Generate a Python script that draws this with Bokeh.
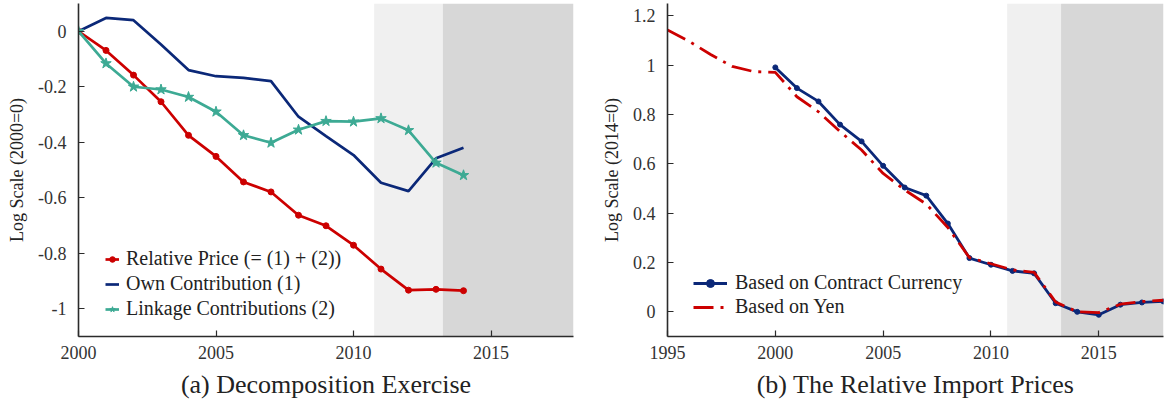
from bokeh.plotting import figure
from bokeh.layouts import row
from bokeh.models import BoxAnnotation, Legend, LegendItem, Range1d, FixedTicker
from bokeh.embed import file_html
from bokeh.resources import INLINE

# Panel (a): decomposition of the relative price (log, 2000 = 0)
years_a = list(range(2000, 2015))
relative_price = [0, -0.069, -0.158, -0.254, -0.375, -0.451, -0.543, -0.579,
                  -0.663, -0.701, -0.771, -0.857, -0.933, -0.930, -0.935]
own_contribution = [0, 0.048, 0.040, -0.048, -0.140, -0.162, -0.168, -0.180,
                    -0.308, -0.378, -0.446, -0.546, -0.576, -0.458, -0.420]
linkage_contributions = [0, -0.116, -0.200, -0.210, -0.237, -0.290, -0.375, -0.402,
                         -0.355, -0.324, -0.326, -0.314, -0.357, -0.474, -0.519]

# Panel (b): relative import prices (log, 2014 = 0)
years_contract = list(range(2000, 2019))
contract_currency = [0.991, 0.907, 0.853, 0.759, 0.691, 0.592, 0.504, 0.471, 0.358,
                     0.218, 0.191, 0.166, 0.156, 0.035, 0.0, -0.012, 0.029, 0.038, 0.042]
years_yen = list(range(1995, 2019))
yen = [1.143, 1.097, 1.043, 0.995, 0.974, 0.971, 0.872, 0.811, 0.731, 0.656, 0.561, 0.494,
       0.437, 0.342, 0.220, 0.195, 0.170, 0.160, 0.040, 0.0, -0.003, 0.031, 0.042, 0.047]

# Shaded periods
light_period = (2010.75, 2013.25)
dark_period = (2013.25, 2018.0)

ticks_a = [2000, 2005, 2010, 2015]
ticks_b = [1995, 2000, 2005, 2010, 2015]
yticks_a = [-1, -0.8, -0.6, -0.4, -0.2, 0]
yticks_b = [0, 0.2, 0.4, 0.6, 0.8, 1, 1.2]

RED = "#CC0000"
NAVY = "#0B2878"
TEAL = "#3DAA94"
FONT = "'Liberation Serif', 'DejaVu Serif', serif"
AXIS_COL = "#2b2b2b"


def style(p, xticks, yticks, xlabel, ylabel):
    p.xgrid.visible = False
    p.ygrid.visible = False
    p.outline_line_color = None
    p.background_fill_color = "white"
    p.border_fill_color = "white"
    p.xaxis.ticker = FixedTicker(ticks=xticks)
    p.yaxis.ticker = FixedTicker(ticks=yticks)
    p.yaxis.major_label_overrides = {v: ("%g" % v) for v in yticks}
    for ax in (p.xaxis[0], p.yaxis[0]):
        ax.axis_line_color = AXIS_COL
        ax.axis_line_width = 1.6
        ax.major_tick_line_color = AXIS_COL
        ax.major_tick_line_width = 1.2
        ax.major_tick_in = 6
        ax.major_tick_out = 0
        ax.minor_tick_line_color = None
        ax.major_label_text_font = FONT
        ax.major_label_text_font_size = "18px"
        ax.major_label_text_color = "#333333"
        ax.axis_label_text_font = FONT
        ax.axis_label_text_font_style = "normal"
        ax.axis_label_text_color = "#222222"
    p.xaxis.axis_label = xlabel
    p.xaxis.axis_label_text_font_size = "26px"
    p.xaxis.axis_label_standoff = 8
    p.xaxis.major_label_standoff = 9
    p.yaxis.axis_label = ylabel
    p.yaxis.axis_label_text_font_size = "18px"
    p.yaxis.major_label_standoff = 12
    p.yaxis.axis_label_standoff = 8


def shade(p):
    p.add_layout(BoxAnnotation(left=light_period[0], right=light_period[1],
                               fill_color="#F0F0F0", fill_alpha=1.0, line_color=None,
                               level="underlay"))
    p.add_layout(BoxAnnotation(left=dark_period[0], right=dark_period[1],
                               fill_color="#D7D7D7", fill_alpha=1.0, line_color=None,
                               level="underlay"))


# ---------------- panel (a) ----------------
pa = figure(width=595, height=408, output_backend="svg", toolbar_location=None,
            x_range=Range1d(2000, 2018), y_range=Range1d(-1.1, 0.1),
            min_border_left=78, min_border_right=22, min_border_top=3, min_border_bottom=72)
style(pa, ticks_a, yticks_a, "(a) Decomposition Exercise", "Log Scale (2000=0)")
shade(pa)

r_line = pa.line(years_a, relative_price, line_color=RED, line_width=2.7)
r_pts = pa.scatter(years_a, relative_price, marker="circle", size=6, fill_color=RED, line_color=RED)
o_line = pa.line(years_a, own_contribution, line_color=NAVY, line_width=2.7)
l_line = pa.line(years_a, linkage_contributions, line_color=TEAL, line_width=2.7)
l_pts = pa.scatter(years_a, linkage_contributions, marker="star", size=11, fill_color=TEAL, line_color=TEAL)

leg_a = Legend(items=[
    LegendItem(label="Relative Price (= (1) + (2))", renderers=[r_line, r_pts]),
    LegendItem(label="Own Contribution (1)", renderers=[o_line]),
    LegendItem(label="Linkage Contributions (2)", renderers=[l_line, l_pts]),
], location=(27, 16), glyph_width=14, glyph_height=20, label_height=20, spacing=2,
    padding=0, margin=0, label_standoff=7, border_line_color=None,
    background_fill_alpha=0, label_text_font=FONT, label_text_font_size="20px",
    label_text_color="#222222")
pa.add_layout(leg_a, "center")

# ---------------- panel (b) ----------------
pb = figure(width=570, height=408, output_backend="svg", toolbar_location=None,
            x_range=Range1d(1995, 2018), y_range=Range1d(-0.1, 1.25),
            min_border_left=72, min_border_right=2, min_border_top=3, min_border_bottom=72)
style(pb, ticks_b, yticks_b, "(b) The Relative Import Prices", "Log Scale (2014=0)")
shade(pb)

c_line = pb.line(years_contract, contract_currency, line_color=NAVY, line_width=2.8)
c_pts = pb.scatter(years_contract, contract_currency, marker="circle", size=5,
                   fill_color=NAVY, line_color=NAVY)
y_line = pb.line(years_yen, yen, line_color=RED, line_width=2.8, line_dash="20 7 3 7")

leg_b = Legend(items=[
    LegendItem(label="Based on Contract Currency", renderers=[c_line, c_pts]),
    LegendItem(label="Based on Yen", renderers=[y_line]),
], location=(26, 18), glyph_width=34, glyph_height=20, label_height=20, spacing=1,
    padding=0, margin=0, label_standoff=8, border_line_color=None,
    background_fill_alpha=0, label_text_font=FONT, label_text_font_size="20px",
    label_text_color="#222222")
pb.add_layout(leg_b, "center")

layout = row(pa, pb)
open("out.html", "w").write(file_html(layout, INLINE))
